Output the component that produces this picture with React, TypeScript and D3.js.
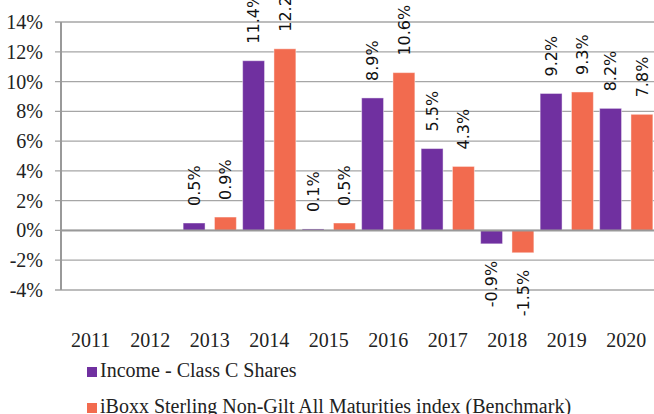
import React from 'react';
import { scaleBand, scaleLinear } from 'd3';

const years = ['2011', '2012', '2013', '2014', '2015', '2016', '2017', '2018', '2019', '2020'];
const seriesNames = ['Income - Class C Shares', 'iBoxx Sterling Non-Gilt All Maturities index (Benchmark)'];
const fundValues: (number | null)[] = [null, null, 0.5, 11.4, 0.1, 8.9, 5.5, -0.9, 9.2, 8.2];
const benchValues: (number | null)[] = [null, null, 0.9, 12.2, 0.5, 10.6, 4.3, -1.5, 9.3, 7.8];
const yTicks = [-4, -2, 0, 2, 4, 6, 8, 10, 12, 14];
const colors = ['#7030A0', '#F26B4F'];

const width = 654;
const height = 414;
const left = 61;
const right = 656;
const top = 22;
const bottom = 290;

const App = () => {
  // Get the axis scales.
  const xScale = scaleBand().domain(years).range([left, right]);
  const xSub = scaleBand()
    .domain(['0', '1'])
    .range([0, xScale.bandwidth()])
    .paddingInner(0.3)
    .paddingOuter(0.1);
  const yScale = scaleLinear().domain([-4, 14]).range([bottom, top]);

  const allSeries = [fundValues, benchValues];
  const serif = '"Liberation Serif", serif';
  const sans = '"DejaVu Sans", sans-serif';

  return (
    <svg
      width={width}
      height={height}
      style={{ position: 'absolute', left: 0, top: 0, background: '#fff' }}
    >
      {/* gridlines and tick labels */}
      {yTicks.map((t) => (
        <g key={t}>
          <line
            x1={left - 6}
            x2={width}
            y1={yScale(t)}
            y2={yScale(t)}
            stroke="#a6a6a6"
            strokeWidth={1.3}
          />
          <text
            x={43}
            y={yScale(t)}
            dy="0.35em"
            textAnchor="end"
            fontFamily={serif}
            fontSize={20}
            fill="#222"
          >
            {t}%
          </text>
        </g>
      ))}
      <line x1={left} x2={left} y1={top} y2={bottom} stroke="#999" strokeWidth={2} />

      {/* bars */}
      {allSeries.map((vals, si) =>
        vals.map((v, i) => {
          if (v === null) return null;
          const x = (xScale(years[i]) ?? 0) + (xSub(String(si)) ?? 0);
          const w = xSub.bandwidth();
          const y0 = yScale(0);
          const y1 = yScale(v);
          return (
            <rect
              key={`${si}-${i}`}
              x={x}
              y={Math.min(y0, y1)}
              width={w}
              height={Math.abs(y1 - y0)}
              fill={colors[si]}
              stroke="#fff"
              strokeOpacity={0.45}
              strokeWidth={1}
            />
          );
        })
      )}

      {/* zero line */}
      <line x1={left} x2={width} y1={yScale(0)} y2={yScale(0)} stroke="#999" strokeWidth={2} />

      {/* data labels */}
      {allSeries.map((vals, si) =>
        vals.map((v, i) => {
          if (v === null) return null;
          const cx = (xScale(years[i]) ?? 0) + (xSub(String(si)) ?? 0) + xSub.bandwidth() / 2;
          const ly = v >= 0 ? yScale(v) - 17 : yScale(v) + 17;
          return (
            <text
              key={`l-${si}-${i}`}
              transform={`translate(${cx},${ly}) rotate(-90)`}
              textAnchor={v >= 0 ? 'start' : 'end'}
              dy="0.36em"
              fontFamily={sans}
              fontSize={16}
              fill="#111"
            >
              {v.toFixed(1)}%
            </text>
          );
        })
      )}

      {/* category labels */}
      {years.map((y) => (
        <text
          key={y}
          x={(xScale(y) ?? 0) + xScale.bandwidth() / 2}
          y={347}
          textAnchor="middle"
          fontFamily={serif}
          fontSize={20}
          fill="#222"
        >
          {y}
        </text>
      ))}

      {/* legend */}
      {seriesNames.map((name, si) => (
        <g key={name} transform={`translate(87,${367 + si * 36})`}>
          <rect width={10} height={10} fill={colors[si]} />
          <text x={13} y={10} fontFamily={serif} fontSize={20} fill="#222">
            {name}
          </text>
        </g>
      ))}
    </svg>
  );
};

export default App;
